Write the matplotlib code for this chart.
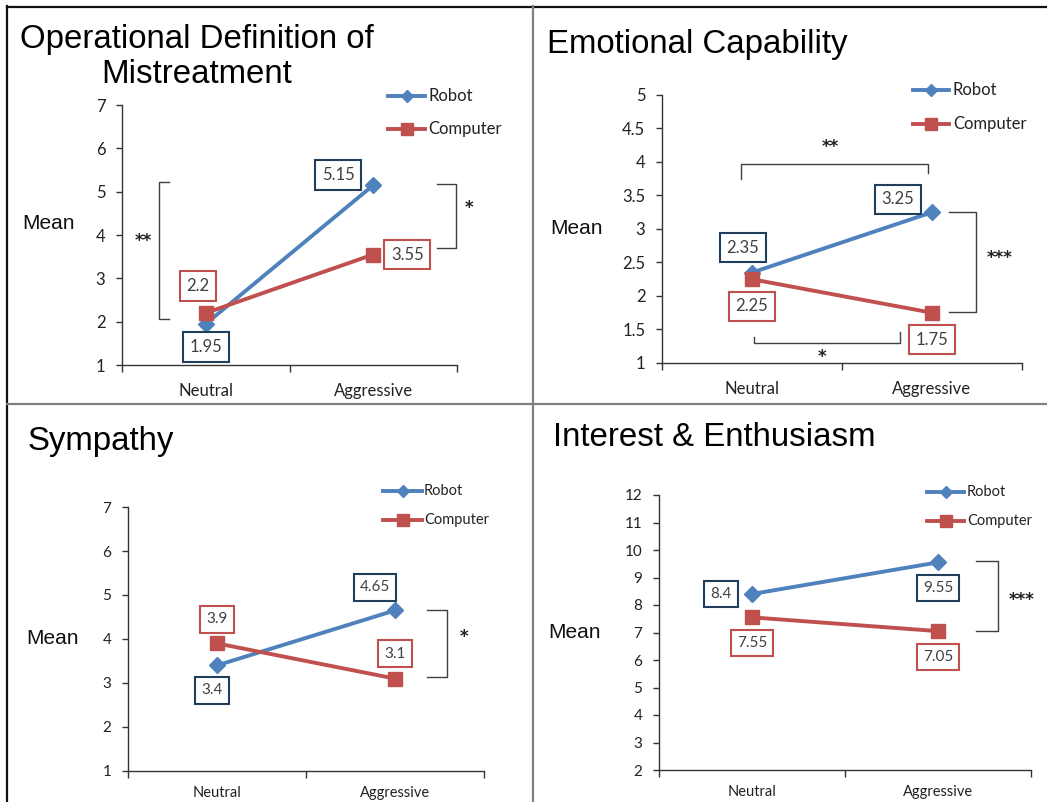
import matplotlib
matplotlib.use('Agg')
import matplotlib.pyplot as plt
import matplotlib.transforms as mtransforms
from matplotlib.lines import Line2D

W, H = 1047, 802

# ---------------- data ----------------
categories = ['Neutral', 'Aggressive']
series_names = ['Robot', 'Computer']

mistreat_robot = [1.95, 5.15]
mistreat_computer = [2.2, 3.55]
emotion_robot = [2.35, 3.25]
emotion_computer = [2.25, 1.75]
sympathy_robot = [3.4, 4.65]
sympathy_computer = [3.9, 3.1]
interest_robot = [8.4, 9.55]
interest_computer = [7.55, 7.05]

mistreat_yticks = [1, 2, 3, 4, 5, 6, 7]
emotion_yticks = [1, 1.5, 2, 2.5, 3, 3.5, 4, 4.5, 5]
sympathy_yticks = [1, 2, 3, 4, 5, 6, 7]
interest_yticks = [2, 3, 4, 5, 6, 7, 8, 9, 10, 11, 12]

titles = ['Operational Definition of\nMistreatment', 'Emotional Capability',
          'Sympathy', 'Interest & Enthusiasm']

# ---------------- style ----------------
ROBOT = '#4F81BD'
COMP = '#C0504D'
ROBOT_BOX = '#1F3F5C'
TXT = '#404040'
TICKF = 'Lato'
TITLEF = 'Liberation Sans'

fig = plt.figure(figsize=(W / 100, H / 100), dpi=100)
fig.patch.set_facecolor('white')
px = mtransforms.Affine2D().scale(1 / W, -1 / H).translate(0, 1) + fig.transFigure

# frame / divider lines
fig.add_artist(Line2D([7, W], [6.5, 6.5], transform=px, color='#111111', lw=1.6))
fig.add_artist(Line2D([7, 7], [6, H], transform=px, color='#111111', lw=1.6))
fig.add_artist(Line2D([533, 533], [6, H], transform=px, color='#808080', lw=1.6))
fig.add_artist(Line2D([7, W], [404, 404], transform=px, color='#808080', lw=1.6))

panels = [
    dict(rect=(122, 105, 457, 365), robot=mistreat_robot, comp=mistreat_computer,
         yticks=mistreat_yticks, ypad=8, xpad=13, tfs=12, xfs=12, lfs=12,
         roff=[(0, -23), (-35, 10)], coff=[(-8, 27), (34, 0)],
         brackets=[[(-0.219, 5.22), (-0.279, 5.22), (-0.279, 2.06), (-0.219, 2.06)],
                   [(1.38, 5.18), (1.494, 5.18), (1.494, 3.70), (1.38, 3.70)]],
         stars=[('**', -0.375, 3.95), ('*', 1.57, 4.72)],
         legend=(388, 425, 96, 129, 428, 12),
         mean=(49, 224),
         title=dict(x=197, y=48, ha='center')),
    dict(rect=(662, 95, 1022, 363), robot=emotion_robot, comp=emotion_computer,
         yticks=emotion_yticks, ypad=8, xpad=13, tfs=12, xfs=12, lfs=12,
         roff=[(-9, 25), (-34, 13)], coff=[(0, -27), (0, -27)],
         brackets=[[(-0.061, 3.75), (-0.061, 3.97), (0.978, 3.97), (0.978, 3.84)],
                   [(1.094, 3.25), (1.244, 3.25), (1.244, 1.76), (1.094, 1.76)],
                   [(0.011, 1.39), (0.011, 1.30), (0.822, 1.30), (0.822, 1.46)]],
         stars=[('**', 0.433, 4.28), ('***', 1.378, 2.63), ('*', 0.389, 1.15)],
         legend=(913, 949, 90, 124, 953, 12),
         mean=(577, 229),
         title=dict(x=547, y=53, ha='left')),
    dict(rect=(128, 507, 484, 771), robot=sympathy_robot, comp=sympathy_computer,
         yticks=sympathy_yticks, ypad=8, xpad=11, tfs=11, xfs=10.5, lfs=11,
         roff=[(-5, -25), (-20, 23)], coff=[(0, 24), (0, 25)],
         brackets=[[(1.18, 4.66), (1.292, 4.66), (1.292, 3.14), (1.18, 3.14)]],
         stars=[('*', 1.388, 4.14)],
         legend=(383, 422, 491, 520, 424, 10.5),
         mean=(52, 638),
         title=dict(x=28, y=450, ha='left')),
    dict(rect=(659, 495, 1031, 770), robot=interest_robot, comp=interest_computer,
         yticks=interest_yticks, ypad=8, xpad=11, tfs=11, xfs=10.5, lfs=11,
         roff=[(-31, 0), (0, -26)], coff=[(0, -26), (0, -26)],
         brackets=[[(1.204, 9.6), (1.323, 9.6), (1.323, 7.05), (1.204, 7.05)]],
         stars=[('***', 1.452, 8.33)],
         legend=(927, 964, 492, 521, 967, 10.5),
         mean=(574, 632),
         title=dict(x=553, y=446, ha='left')),
]

xpos = list(range(len(categories)))

for i, p in enumerate(panels):
    l, t, r, b = p['rect']
    ax = fig.add_axes([l / W, 1 - b / H, (r - l) / W, (b - t) / H])
    ax.set_facecolor('none')
    ax.set_xlim(-0.5, 1.5)
    ax.set_ylim(p['yticks'][0], p['yticks'][-1])
    for s in ['top', 'right']:
        ax.spines[s].set_visible(False)
    for s in ['left', 'bottom']:
        ax.spines[s].set_color('#333333')
        ax.spines[s].set_linewidth(1.0)

    ax.set_yticks(p['yticks'])
    ax.set_yticklabels([f'{v:g}' for v in p['yticks']], fontfamily=TICKF,
                       fontsize=p['tfs'], color='#222222')
    ax.tick_params(axis='y', direction='out', length=4, width=1, color='#333333',
                   pad=p['ypad'])
    ax.set_xticks(xpos)
    ax.set_xticklabels(categories, fontfamily=TICKF, fontsize=p['xfs'], color='#222222')
    ax.set_xticks([-0.5, 0.5, 1.5], minor=True)
    ax.tick_params(axis='x', which='major', length=0, pad=p['xpad'])
    ax.tick_params(axis='x', which='minor', direction='out', length=5, width=1,
                   color='#333333')

    ax.plot(xpos, p['robot'], color=ROBOT, lw=2.8, marker='D', ms=8,
            mfc=ROBOT, mec=ROBOT, clip_on=False, zorder=3, solid_capstyle='round')
    ax.plot(xpos, p['comp'], color=COMP, lw=2.8, marker='s', ms=9.5,
            mfc=COMP, mec=COMP, clip_on=False, zorder=4, solid_capstyle='round')

    for vals, offs, ec in [(p['robot'], p['roff'], ROBOT_BOX), (p['comp'], p['coff'], COMP)]:
        for x, v, (dx, dy) in zip(xpos, vals, offs):
            ax.annotate(f'{v:g}', (x, v), xytext=(dx, dy), textcoords='offset pixels',
                        ha='center', va='center', fontfamily=TICKF, fontsize=p['lfs'],
                        color=TXT, zorder=6,
                        bbox=dict(boxstyle='square,pad=0.4', fc='white', ec=ec, lw=1.5))

    for br in p['brackets']:
        xs = [q[0] for q in br]
        ys = [q[1] for q in br]
        ax.plot(xs, ys, color='#404040', lw=1.0, clip_on=False, zorder=2)
    for s, sx, sy in p['stars']:
        ax.annotate(s, (sx, sy), xytext=(0, -4), textcoords='offset pixels',
                    ha='center', va='center', fontsize=12, fontfamily='DejaVu Sans',
                    fontweight='bold', color='#222222', annotation_clip=False)

    # legend
    x0, x1, y1, y2, tx, fs = p['legend']
    for yy, col, mk, ms, name in [(y1, ROBOT, 'D', 6, series_names[0]),
                                  (y2, COMP, 's', 8, series_names[1])]:
        fig.add_artist(Line2D([x0, x1], [yy, yy], transform=px, color=col, lw=2.8))
        fig.add_artist(Line2D([(x0 + x1) / 2], [yy], transform=px, color=col,
                              marker=mk, ms=ms, lw=0))
        fig.text(tx / W, 1 - yy / H, name, ha='left', va='center', fontfamily=TICKF,
                 fontsize=fs, color='#222222')

    mx, my = p['mean']
    fig.text(mx / W, 1 - my / H, 'Mean', ha='center', va='center', fontfamily=TITLEF,
             fontsize=15, color='#111111')

    tt = p['title']
    lines = titles[i].split('\n')
    for k, line in enumerate(lines):
        fig.text(tt['x'] / W, 1 - (tt['y'] + k * 35) / H, line, ha=tt['ha'],
                 va='baseline', fontfamily=TITLEF, fontsize=23.8, color='black')

fig.savefig('out.png', dpi=100, facecolor='white')
